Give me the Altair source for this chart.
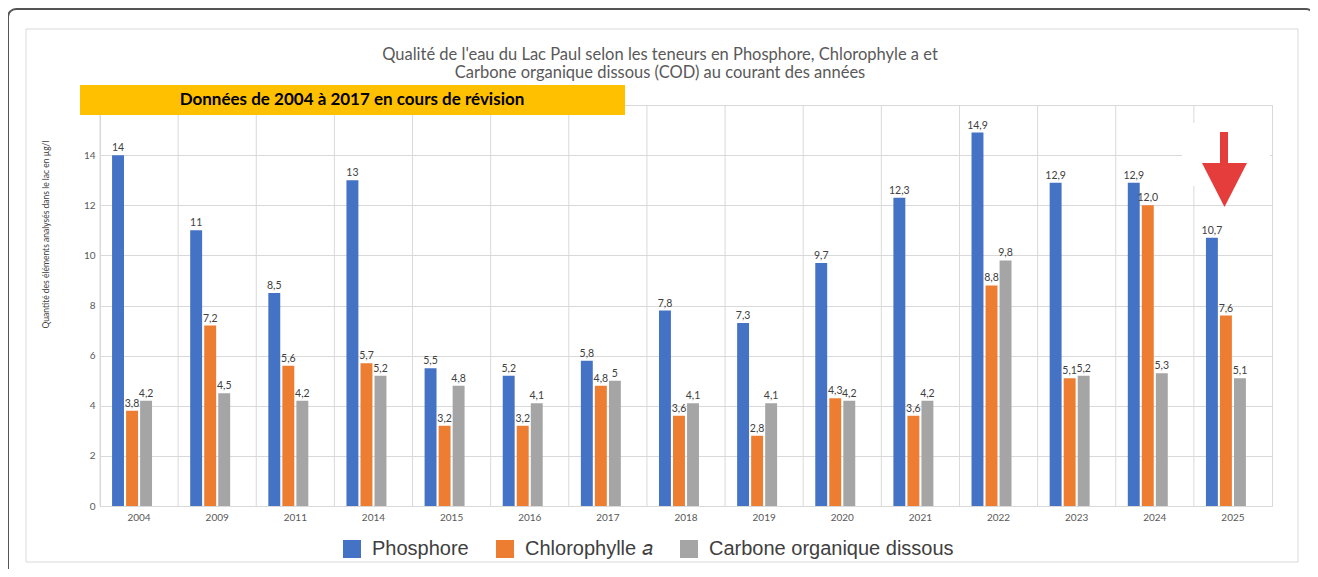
import altair as alt
import pandas as pd

years = ["2004", "2009", "2011", "2014", "2015", "2016", "2017", "2018",
         "2019", "2020", "2021", "2022", "2023", "2024", "2025"]
phosphore = [14, 11, 8.5, 13, 5.5, 5.2, 5.8, 7.8, 7.3, 9.7, 12.3, 14.9, 12.9, 12.9, 10.7]
chlorophylle = [3.8, 7.2, 5.6, 5.7, 3.2, 3.2, 4.8, 3.6, 2.8, 4.3, 3.6, 8.8, 5.1, 12.0, 7.6]
carbone = [4.2, 4.5, 4.2, 5.2, 4.8, 4.1, 5.0, 4.1, 4.1, 4.2, 4.2, 9.8, 5.2, 5.3, 5.1]
phosphore_labels = ["14", "11", "8,5", "13", "5,5", "5,2", "5,8", "7,8", "7,3", "9,7",
                    "12,3", "14,9", "12,9", "12,9", "10,7"]
chlorophylle_labels = ["3,8", "7,2", "5,6", "5,7", "3,2", "3,2", "4,8", "3,6", "2,8", "4,3",
                       "3,6", "8,8", "5,1", "12,0", "7,6"]
carbone_labels = ["4,2", "4,5", "4,2", "5,2", "4,8", "4,1", "5", "4,1", "4,1", "4,2",
                  "4,2", "9,8", "5,2", "5,3", "5,1"]
series = ["Phosphore", "Chlorophylle a", "Carbone organique dissous"]
colors = ["#4472C4", "#ED7D31", "#A5A5A5"]
y_ticks = [0, 2, 4, 6, 8, 10, 12, 14, 16]

title_lines = ["Qualité de l'eau du Lac Paul selon les teneurs en Phosphore, Chlorophyle a et",
               "Carbone organique dissous (COD) au courant des années"]
banner_text = "Données de 2004 à 2017 en cours de révision"
y_title = "Quantité des éléments analysés dans le lac en µg/l"

rows = []
for s, vals, labs in zip(series, [phosphore, chlorophylle, carbone],
                         [phosphore_labels, chlorophylle_labels, carbone_labels]):
    for yr, v, lab in zip(years, vals, labs):
        rows.append({"year": yr, "series": s, "value": v, "label": lab})
df = pd.DataFrame(rows)
df_years = pd.DataFrame({"year": years})

W, H = 1172, 401

x_scale = alt.Scale(domain=years, paddingInner=0, paddingOuter=0)
x_axis = alt.Axis(title=None, grid=False, domain=False, ticks=False, labelAngle=0,
                  labelFontSize=10, labelFont="Lato", labelColor="#595959", labelPadding=6)
xoff_scale = alt.Scale(domain=series + ["_"], paddingInner=0.15, paddingOuter=0.86)
y_scale = alt.Scale(domain=[0, 16], nice=False)
y_axis = alt.Axis(values=y_ticks, grid=True, gridColor="#d9d9d9", domain=False, ticks=False,
                  labelFontSize=10, labelFont="Lato", labelColor="#595959", labelPadding=5,
                  title=y_title, titleFontSize=8.5, titleFont="Lato", titleFontWeight="normal",
                  titleColor="#404040", titleX=-55, titleY=129, titleAngle=270,
                  titleAlign="center", titleBaseline="middle")

base = alt.Chart(df)

# outer window frame and inner chart border (annotations)
frame = alt.Chart(df_years.head(1)).mark_rect(
    fillOpacity=0, stroke="#555555", strokeWidth=2, cornerRadius=8
).encode(x=alt.value(-92), x2=alt.value(1214), y=alt.value(-96), y2=alt.value(490))
inner = alt.Chart(df_years.head(1)).mark_rect(
    fillOpacity=0, stroke="#d9d9d9", strokeWidth=1
).encode(x=alt.value(-74), x2=alt.value(1198), y=alt.value(-76), y2=alt.value(457))

vgrid = alt.Chart(df_years).mark_rule(color="#d9d9d9", strokeWidth=1).encode(
    x=alt.X("year:N", scale=x_scale, sort=years, bandPosition=0, axis=x_axis),
    y=alt.value(0), y2=alt.value(H)
)

bars = base.mark_bar().encode(
    x=alt.X("year:N", scale=x_scale, sort=years, axis=x_axis),
    xOffset=alt.XOffset("series:N", scale=xoff_scale, sort=series + ["_"]),
    y=alt.Y("value:Q", scale=y_scale, axis=y_axis),
    color=alt.Color("series:N", scale=alt.Scale(domain=series, range=colors),
                    legend=alt.Legend(orient="none", legendX=242, legendY=434,
                                      direction="horizontal", columns=3, title=None,
                                      symbolType="square", symbolSize=324,
                                      symbolStrokeWidth=0, labelFontSize=20,
                                      labelFont="Liberation Sans", labelColor="#404040",
                                      labelOffset=10, columnPadding=26, labelLimit=400,
                                      labelExpr="datum.label == 'Chlorophylle a' ? 'Chlorophylle 𝑎' : datum.label")),
)

labels = base.mark_text(dy=-7, fontSize=10.5, font="Lato", color="#404040").encode(
    x=alt.X("year:N", scale=x_scale, sort=years, axis=x_axis),
    xOffset=alt.XOffset("series:N", scale=xoff_scale, sort=series + ["_"]),
    y=alt.Y("value:Q", scale=y_scale, axis=y_axis),
    text="label:N",
)

one = alt.Chart(df_years.head(1))
whitebox = one.mark_rect(fill="white", cornerRadius=6).encode(
    x=alt.value(1082), x2=alt.value(1170), y=alt.value(18), y2=alt.value(81))
shaft = one.mark_rule(color="#E53C3C", strokeWidth=8).encode(
    x=alt.value(1124), y=alt.value(27), y2=alt.value(64))
head = one.mark_point(shape="M-1,-0.98L1,-0.98L0,0.98Z", filled=True, fill="#E53C3C",
                      opacity=1, size=2025, strokeWidth=0).encode(
    x=alt.value(1124.5), y=alt.value(80))

banner = one.mark_rect(fill="#FFC000").encode(
    x=alt.value(-20), x2=alt.value(525), y=alt.value(-20), y2=alt.value(10))
banner_t = one.mark_text(fontSize=17, font="Lato", fontWeight="bold", color="#000000",
                         align="center", baseline="middle").encode(
    x=alt.value(252), y=alt.value(-5), text=alt.value(banner_text))

title_t = one.mark_text(fontSize=16.5, font="Lato", color="#595959", align="center",
                        baseline="alphabetic", lineHeight=18).encode(
    x=alt.value(560), y=alt.value(-45), text=alt.value(title_lines))

chart = alt.layer(frame, inner, vgrid, bars, labels, whitebox, shaft, head,
                  banner, banner_t, title_t).properties(
    width=W, height=H,
    autosize=alt.AutoSizeParams(type="none"),
    padding={"left": 92, "top": 97, "right": 38, "bottom": 63},
    background="white",
).configure_view(stroke="#d9d9d9", strokeWidth=1)

chart.save("out.html", embed_options={"renderer": "svg", "actions": False})
